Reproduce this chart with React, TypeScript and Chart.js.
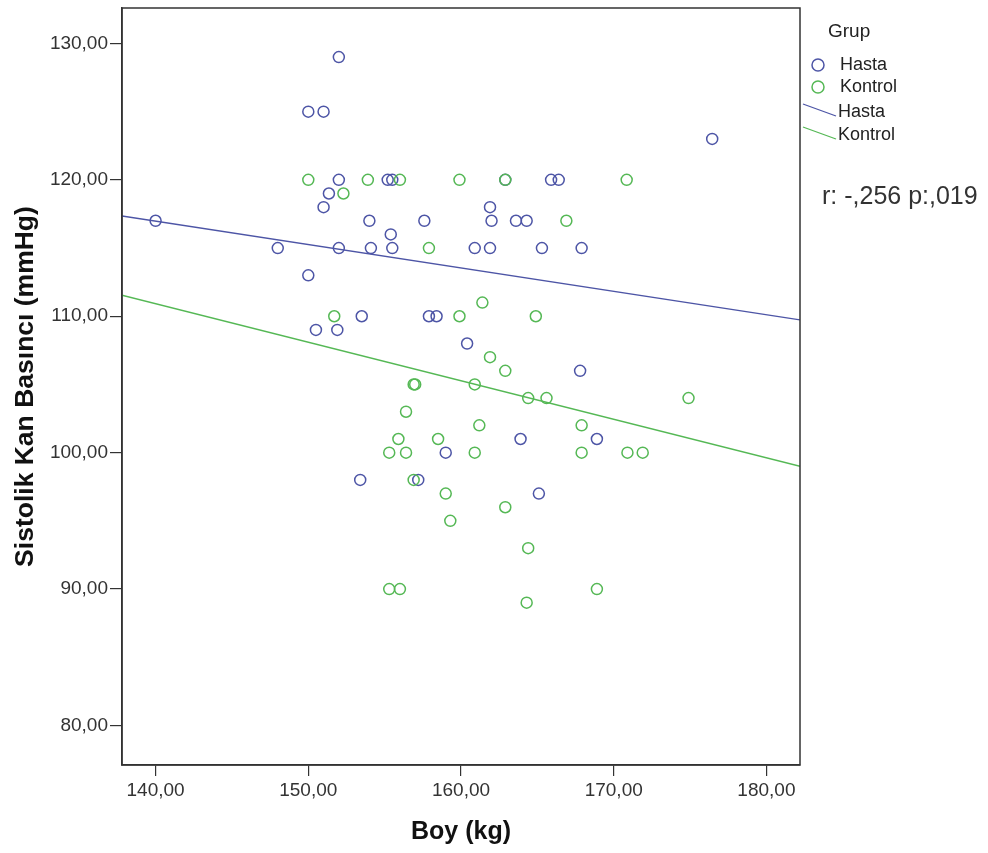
import React, { useEffect, useRef } from "react";
import { Chart, registerables } from "chart.js";

Chart.register(...registerables);

// Hasta (patients): height (Boy) and systolic BP
const hastaX = [140, 148, 150, 151, 152, 150, 150.5, 151.9, 151, 151.35, 152, 152, 153.5, 153.4, 154, 154.1, 155.2, 155.5, 155.4, 155.5, 157.6, 157.9, 158.4, 159, 157.2, 160.4, 160.9, 161.9, 161.9, 162, 162.9, 163.6, 164.3, 163.9, 165.1, 165.3, 165.9, 166.4, 167.9, 167.8, 168.9, 176.45];
const hastaY = [117, 115, 125, 125, 129, 113, 109, 109, 118, 119, 120, 115, 110, 98, 117, 115, 120, 120, 116, 115, 117, 110, 110, 100, 98, 108, 115, 115, 118, 117, 120, 117, 117, 101, 97, 115, 120, 120, 115, 106, 101, 123];

// Kontrol (controls)
const kontrolX = [150, 152.3, 151.7, 153.9, 156, 157.9, 159.9, 159.9, 161.4, 162.9, 166.9, 170.85, 164.9, 161.9, 162.9, 160.9, 156.9, 157.0, 156.4, 155.9, 158.5, 155.3, 156.4, 160.9, 161.2, 164.4, 165.6, 174.9, 167.9, 167.9, 170.9, 171.9, 156.9, 159, 159.3, 162.9, 164.4, 155.3, 156, 164.3, 168.9];
const kontrolY = [120, 119, 110, 120, 120, 115, 120, 110, 111, 120, 117, 120, 110, 107, 106, 105, 105, 105, 103, 101, 101, 100, 100, 100, 102, 104, 104, 104, 102, 100, 100, 100, 98, 97, 95, 96, 93, 90, 90, 89, 90];

// Fit lines (endpoints read at plot edges)
const fitX = [137.8, 182.2];
const hastaFitY = [117.35, 109.73];
const kontrolFitY = [111.54, 99.0];

const xTicks = [140, 150, 160, 170, 180];
const yTicks = [80, 90, 100, 110, 120, 130];
const X_MIN = 137.8, X_MAX = 182.2, Y_MIN = 77.1, Y_MAX = 132.6;

const groupLabels = ["Hasta", "Kontrol"];
const legendTitle = "Grup";
const statText = "r: -,256 p:,019";
const xTitle = "Boy (kg)";
const yTitle = "Sistolik Kan Basıncı (mmHg)";

const BLUE = "#4d55a6";
const GREEN = "#55b855";
const FONT = "'Liberation Sans', Arial, sans-serif";

const zip = (xs: number[], ys: number[]) => xs.map((x, i) => ({ x, y: ys[i] }));
const fmt = (v: number) => v.toFixed(2).replace(".", ",");

const decorPlugin = {
  id: "decor",
  afterDraw(chart: any) {
    const { ctx, chartArea } = chart;
    const { left, right, top, bottom } = chartArea;
    ctx.save();
    // frame
    ctx.strokeStyle = "#333";
    ctx.lineWidth = 1.5;
    ctx.strokeRect(left, top, right - left, bottom - top);
    // axis titles
    ctx.fillStyle = "#111";
    ctx.font = `bold 25px ${FONT}`;
    ctx.textAlign = "center";
    ctx.textBaseline = "alphabetic";
    ctx.fillText(xTitle, (left + right) / 2, 839);
    ctx.save();
    ctx.translate(33, (top + bottom) / 2);
    ctx.rotate(-Math.PI / 2);
    ctx.font = `bold 26.5px ${FONT}`;
    ctx.fillText(yTitle, 0, 0);
    ctx.restore();
    // legend
    ctx.textAlign = "left";
    ctx.textBaseline = "middle";
    ctx.fillStyle = "#222";
    ctx.font = `19px ${FONT}`;
    ctx.fillText(legendTitle, 828, 32);
    ctx.font = `18px ${FONT}`;
    const colors = [BLUE, GREEN];
    const markerY = [65, 87];
    const lineY = [112, 135];
    for (let i = 0; i < 2; i++) {
      ctx.strokeStyle = colors[i];
      ctx.lineWidth = 1.5;
      ctx.beginPath();
      ctx.arc(818, markerY[i], 6, 0, Math.PI * 2);
      ctx.stroke();
      ctx.fillStyle = "#222";
      ctx.fillText(groupLabels[i], 840, markerY[i]);
    }
    for (let i = 0; i < 2; i++) {
      ctx.strokeStyle = colors[i];
      ctx.lineWidth = 1.3;
      ctx.beginPath();
      ctx.moveTo(803, lineY[i] - 8);
      ctx.lineTo(836, lineY[i] + 4);
      ctx.stroke();
      ctx.fillStyle = "#222";
      ctx.fillText(groupLabels[i], 838, lineY[i]);
    }
    ctx.font = `25px ${FONT}`;
    ctx.fillStyle = "#333";
    ctx.fillText(statText, 822, 197);
    ctx.restore();
  },
};

export default function App() {
  const ref = useRef<HTMLCanvasElement | null>(null);
  useEffect(() => {
    if (!ref.current) return;
    const chart = new Chart(ref.current, {
      type: "scatter",
      data: {
        datasets: [
          {
            label: "Kontrol fit",
            type: "line",
            data: zip(fitX, kontrolFitY),
            borderColor: GREEN,
            borderWidth: 1.3,
            pointRadius: 0,
            fill: false,
          } as any,
          {
            label: "Hasta fit",
            type: "line",
            data: zip(fitX, hastaFitY),
            borderColor: BLUE,
            borderWidth: 1.3,
            pointRadius: 0,
            fill: false,
          } as any,
          {
            label: "Kontrol",
            data: zip(kontrolX, kontrolY),
            pointStyle: "circle",
            pointRadius: 5.5,
            borderColor: GREEN,
            backgroundColor: "rgba(0,0,0,0)",
            borderWidth: 1.5,
          },
          {
            label: "Hasta",
            data: zip(hastaX, hastaY),
            pointStyle: "circle",
            pointRadius: 5.5,
            borderColor: BLUE,
            backgroundColor: "rgba(0,0,0,0)",
            borderWidth: 1.5,
          },
        ],
      },
      options: {
        responsive: false,
        animation: false,
        layout: { padding: { left: 0, right: 188, top: 8, bottom: 0 } },
        plugins: {
          legend: { display: false },
          tooltip: { enabled: false },
        },
        scales: {
          x: {
            type: "linear",
            min: X_MIN,
            max: X_MAX,
            afterBuildTicks: (s: any) => {
              s.ticks = xTicks.map((v) => ({ value: v }));
            },
            afterFit: (s: any) => {
              s.height = 88;
              s.paddingLeft = 0;
              s.paddingRight = 0;
            },
            grid: { drawOnChartArea: false, drawTicks: true, tickLength: 11, color: "#333", lineWidth: 1.2 },
            border: { display: true, color: "#333", width: 1.5 },
            ticks: {
              color: "#333",
              font: { family: FONT, size: 19 },
              padding: 3,
              maxRotation: 0,
              callback: (v: any) => fmt(Number(v)),
            },
          },
          y: {
            type: "linear",
            min: Y_MIN,
            max: Y_MAX,
            afterBuildTicks: (s: any) => {
              s.ticks = yTicks.map((v) => ({ value: v }));
            },
            afterFit: (s: any) => {
              s.width = 122;
              s.paddingTop = 0;
              s.paddingBottom = 0;
            },
            grid: { drawOnChartArea: false, drawTicks: true, tickLength: 12, color: "#333", lineWidth: 1.2 },
            border: { display: true, color: "#333", width: 1.5 },
            ticks: {
              color: "#333",
              font: { family: FONT, size: 19 },
              padding: 2,
              callback: (v: any) => fmt(Number(v)),
            },
          },
        },
      },
      plugins: [decorPlugin],
    });
    return () => chart.destroy();
  }, []);
  return (
    <div style={{ position: "absolute", left: 0, top: 0, width: 988, height: 853, background: "#fff" }}>
      <canvas ref={ref} width={988} height={853} style={{ display: "block" }} />
    </div>
  );
}
